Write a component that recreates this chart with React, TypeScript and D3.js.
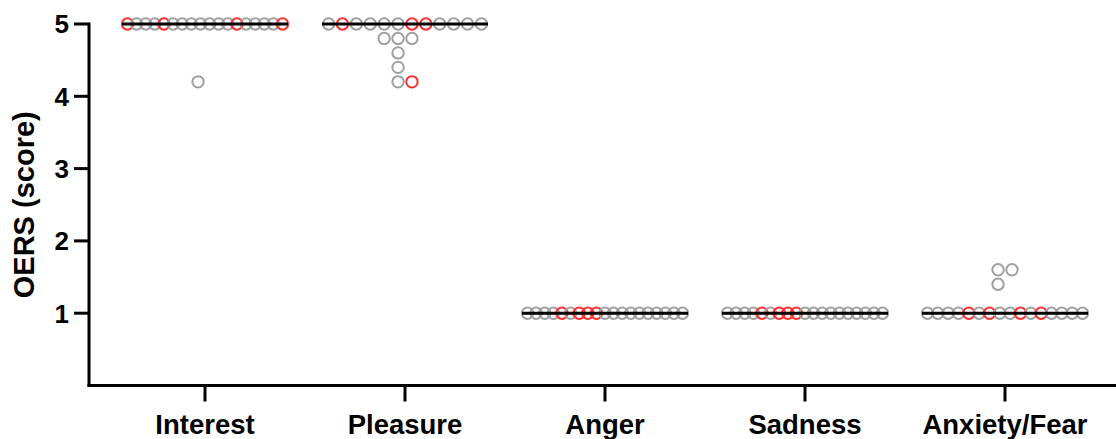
import React, { useMemo } from 'react';
import { scaleLinear, scalePoint, group, median } from 'd3';

// categories on the x axis
const categories = ['Interest', 'Pleasure', 'Anger', 'Sadness', 'Anxiety/Fear'];

// OERS scores per subject (n = 19)
const interestScores = [5, 5, 5, 5, 5, 5, 5, 5, 5, 5, 5, 5, 5, 5, 5, 5, 5, 5, 4.2];
const pleasureScores = [5, 5, 5, 5, 5, 5, 5, 5, 5, 5, 5, 5, 4.8, 4.8, 4.8, 4.6, 4.4, 4.2, 4.2];
const angerScores = [1, 1, 1, 1, 1, 1, 1, 1, 1, 1, 1, 1, 1, 1, 1, 1, 1, 1, 1];
const sadnessScores = [1, 1, 1, 1, 1, 1, 1, 1, 1, 1, 1, 1, 1, 1, 1, 1, 1, 1, 1];
const anxietyScores = [1, 1, 1, 1, 1, 1, 1, 1, 1, 1, 1, 1, 1, 1, 1, 1, 1.4, 1.6, 1.6];

// 1 = subject drawn in red
const interestRed = [1, 0, 0, 0, 1, 0, 0, 0, 0, 0, 0, 0, 1, 0, 0, 0, 0, 1, 0];
const pleasureRed = [0, 1, 0, 0, 0, 0, 1, 1, 0, 0, 0, 0, 0, 0, 0, 0, 0, 0, 1];
const angerRed = [0, 0, 0, 0, 1, 0, 1, 1, 1, 0, 0, 0, 0, 0, 0, 0, 0, 0, 0];
const sadnessRed = [0, 0, 0, 0, 1, 0, 1, 1, 1, 0, 0, 0, 0, 0, 0, 0, 0, 0, 0];
const anxietyRed = [0, 0, 0, 0, 1, 0, 1, 0, 0, 1, 0, 1, 0, 0, 0, 0, 0, 0, 0];

const yTicks = [1, 2, 3, 4, 5];

const scoreSets = [interestScores, pleasureScores, angerScores, sadnessScores, anxietyScores];
const redSets = [interestRed, pleasureRed, angerRed, sadnessRed, anxietyRed];

const FONT = "'Liberation Sans', Arial, Helvetica, sans-serif";
const GRAY = '#a0a0a0';
const RED = '#ff3030';

export default function App() {
    const width = 1116;
    const height = 439;
    const axisX = 89;
    const axisY = 385.5;

    const yScale = scaleLinear().domain([0, 5]).range([axisY, 24]);
    const xScale = scalePoint<string>().domain(categories).range([205, 1005]);

    // Prism-like scatter layout: points with the same value share a row
    const points = useMemo(() => {
        const maxW = 155;
        const maxStep = 13.9;
        const out: { key: string; x: number; y: number; red: boolean }[] = [];
        categories.forEach((cat, gi) => {
            const items = scoreSets[gi].map((v, i) => ({ v, red: redSets[gi][i] === 1, i }));
            const rows = group(items, d => d.v);
            rows.forEach((row, v) => {
                const n = row.length;
                const fits = (n - 1) * maxStep <= maxW;
                const step = fits ? maxStep : maxW / (n - 1);
                row.forEach((d, k) => {
                    const slot = fits ? k - Math.ceil(n / 2) + 0.5 : k - (n - 1) / 2;
                    out.push({
                        key: `${cat}-${d.i}`,
                        x: (xScale(cat) as number) + slot * step,
                        y: yScale(v),
                        red: d.red,
                    });
                });
            });
        });
        return out;
    }, []);

    return (
        <svg
            width={width}
            height={height}
            style={{ position: 'absolute', left: 0, top: 0, background: '#fff' }}
        >
            {/* points */}
            {points.map(p => (
                <circle
                    key={p.key}
                    cx={p.x}
                    cy={p.y}
                    r={5.7}
                    fill="none"
                    stroke={p.red ? RED : GRAY}
                    strokeWidth={2}
                />
            ))}

            {/* medians */}
            {categories.map((cat, gi) => {
                const m = median(scoreSets[gi]) as number;
                const cx = xScale(cat) as number;
                return (
                    <line
                        key={cat}
                        x1={cx - 83}
                        x2={cx + 83}
                        y1={yScale(m)}
                        y2={yScale(m)}
                        stroke="#000"
                        strokeWidth={3}
                    />
                );
            })}

            {/* y axis */}
            <line x1={axisX} x2={axisX} y1={axisY + 1.5} y2={yScale(5) - 1.5} stroke="#000" strokeWidth={3} />
            {yTicks.map(t => (
                <g key={t}>
                    <line x1={axisX - 15} x2={axisX} y1={yScale(t)} y2={yScale(t)} stroke="#000" strokeWidth={3} />
                    <text
                        x={axisX - 20}
                        y={yScale(t)}
                        dy="0.36em"
                        textAnchor="end"
                        fontFamily={FONT}
                        fontWeight="bold"
                        fontSize={26}
                        fill="#000"
                    >
                        {t}
                    </text>
                </g>
            ))}

            {/* x axis */}
            <line x1={axisX - 1.5} x2={width} y1={axisY} y2={axisY} stroke="#000" strokeWidth={3} />
            {categories.map(cat => (
                <g key={cat}>
                    <line
                        x1={xScale(cat)}
                        x2={xScale(cat)}
                        y1={axisY}
                        y2={axisY + 16}
                        stroke="#000"
                        strokeWidth={3}
                    />
                    <text
                        x={xScale(cat)}
                        y={434}
                        textAnchor="middle"
                        fontFamily={FONT}
                        fontWeight="bold"
                        fontSize={27.5}
                        fill="#000"
                    >
                        {cat}
                    </text>
                </g>
            ))}

            {/* axis title */}
            <text
                x={0}
                y={0}
                transform={`translate(34, ${(yScale(5) + axisY) / 2}) rotate(-90)`}
                textAnchor="middle"
                fontFamily={FONT}
                fontWeight="bold"
                fontSize={29}
                fill="#000"
            >
                OERS (score)
            </text>
        </svg>
    );
}
